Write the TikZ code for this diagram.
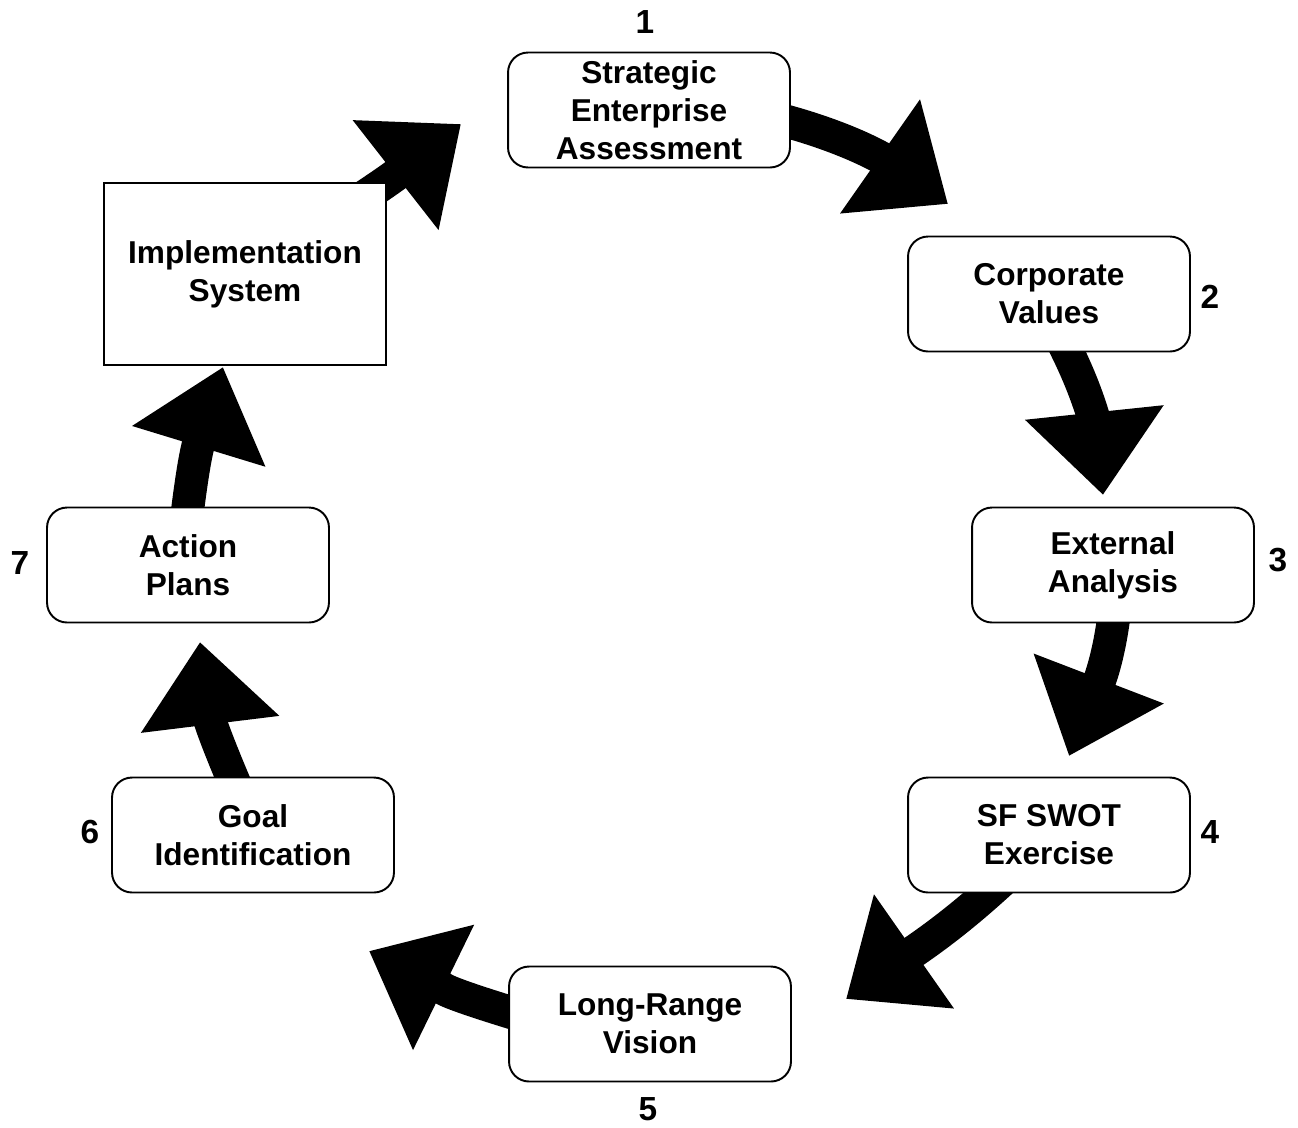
\documentclass[tikz,border=0pt]{standalone}
\usepackage{fontspec}
\setmainfont{Liberation Sans}
\usepackage{tikz}
\usetikzlibrary{
	arrows.meta,
	backgrounds
}

\tikzset{
	stage/.style={draw, line width=1.1pt, rounded corners=0.4cm, fill=white,
		minimum width=5.64cm, minimum height=2.3cm, inner sep=2pt, align=center,
		font=\bfseries\fontsize{18}{21.6}\selectfont},
	sysbox/.style={stage, sharp corners, minimum height=3.64cm},
	numlbl/.style={inner sep=0pt, font=\bfseries\fontsize{19}{22}\selectfont},
	flow/.style={line width=0.66cm, -{Triangle[length=1.66cm, width=2.68cm]}, shorten <=-0.2cm}
}

\begin{document}
\begin{tikzpicture}[x=0.02cm, y=0.02cm]
	\useasboundingbox (0,0) rectangle (1298,-1127);
	% stages of the cycle
	\node[stage] (n1) at (649,-110) {Strategic\\Enterprise\\Assessment};
	\node[stage] (n2) at (1049,-294) {Corporate\\Values};
	\node[stage] (n3) at (1113,-565) {External\\Analysis};
	\node[stage] (n4) at (1049,-835) {SF SWOT\\Exercise};
	\node[stage] (n5) at (650,-1024) {Long-Range\\Vision};
	\node[stage] (n6) at (253,-835) {Goal\\Identification};
	\node[stage] (n7) at (188,-565) {Action\\Plans};
	\node[sysbox] (impl) at (245,-274) {Implementation\\System};
	% step numbers
	\node[numlbl] (l1) at (645,-22) {1};
	\node[numlbl] (l2) at (1210,-297) {2};
	\node[numlbl] (l3) at (1278,-560) {3};
	\node[numlbl] (l4) at (1210,-832) {4};
	\node[numlbl] (l5) at (648,-1109) {5};
	\node[numlbl] (l6) at (90,-832) {6};
	\node[numlbl] (l7) at (20,-563) {7};
	% arrow tips
	\coordinate (t1) at (948,-204);
	\coordinate (t2) at (1103,-495);
	\coordinate (t3) at (1069,-756);
	\coordinate (t4) at (846,-999);
	\coordinate (t5) at (369,-951);
	\coordinate (t6) at (200,-642);
	\coordinate (t7) at (223,-367);
	\coordinate (t8) at (461,-124);
	\begin{scope}[on background layer]
		\draw[flow] (n1.-5) to[out=-15, in=145] (t1);
		\draw[flow] (n2.-72) to[out=-63, in=96] (t2);
		\draw[flow] (n3.south) to[out=-97, in=69] (t3);
		\draw[flow] (n4.center) to[out=-134, in=35] (t4);
		\draw[flow] (n5.175) to[out=163, in=-26, looseness=1.4] (t5);
		\draw[flow] (n6.110) to[out=113, in=-83, looseness=1.3] (t6);
		\draw[flow] (n7.north) to[out=83, in=-107, looseness=1.3] (t7);
		\draw[flow] (impl.center) to[out=33, in=-142] (t8);
	\end{scope}
\end{tikzpicture}
\end{document}
